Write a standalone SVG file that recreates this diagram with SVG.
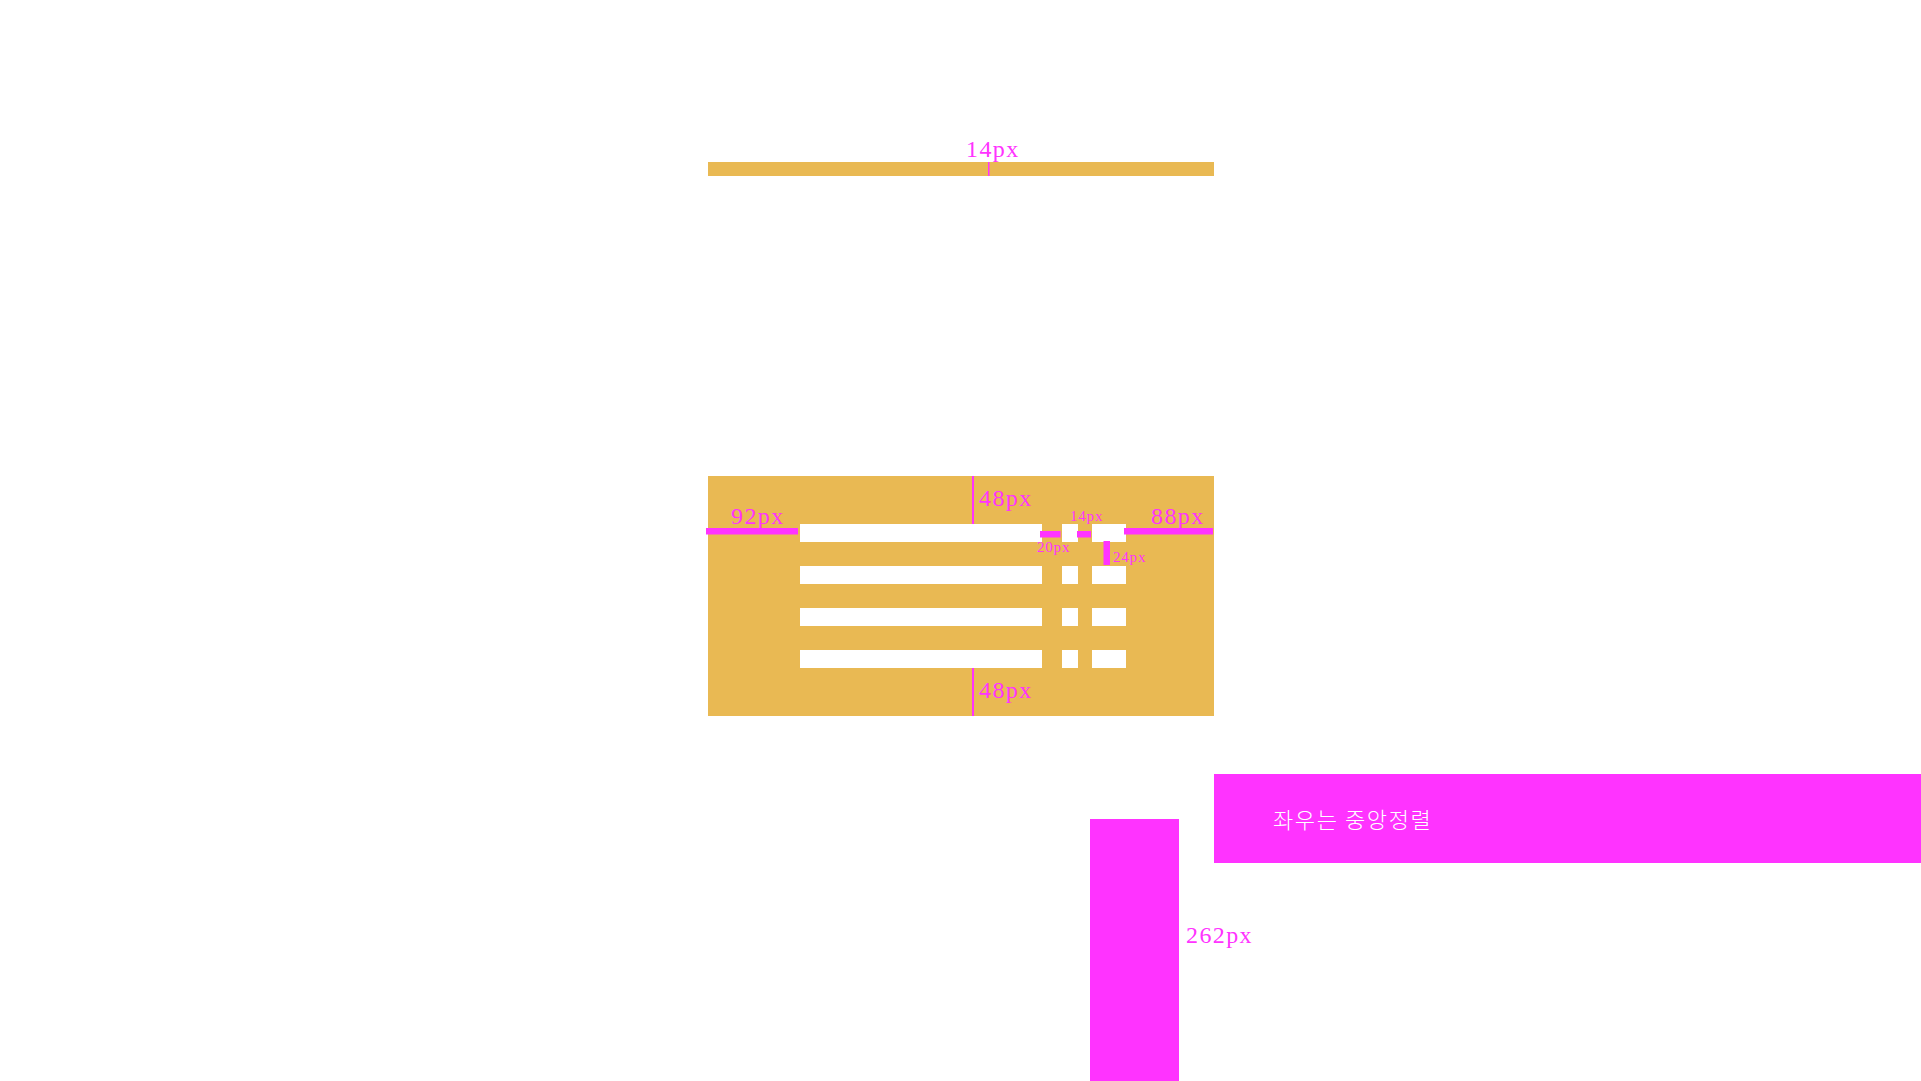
<svg xmlns="http://www.w3.org/2000/svg" width="1921" height="1081" viewBox="0 0 1921 1081">
<style>
.gold{fill:#E9B953}
.cell{fill:#FFFFFF}
.pink{fill:#FF33FF}
.lbl{font-family:"Liberation Serif",serif;fill:#FF33FF;font-size:24px;letter-spacing:1.4px}
.sm{font-family:"Liberation Serif",serif;fill:#FF33FF;font-size:15px;letter-spacing:0.8px}
.kr{font-family:"Noto Sans CJK KR",sans-serif;fill:#FFFFFF;font-size:22px;font-weight:300;letter-spacing:1.6px}
</style>
<rect width="1921" height="1081" fill="#FFFFFF"/>
<g id="top-bar">
<rect class="gold" x="708" y="162" width="506" height="14"/>
<rect class="pink" x="988" y="162" width="1.5" height="14"/>
<text class="lbl" x="966" y="157">14px</text>
</g>
<g id="main-box">
<rect class="gold" x="708" y="476" width="506" height="240"/>
<g id="rows">
<rect class="cell" x="800" y="524" width="242" height="18"/>
<rect class="cell" x="1062" y="524" width="16" height="18"/>
<rect class="cell" x="1092" y="524" width="34" height="18"/>
<rect class="cell" x="800" y="566" width="242" height="18"/>
<rect class="cell" x="1062" y="566" width="16" height="18"/>
<rect class="cell" x="1092" y="566" width="34" height="18"/>
<rect class="cell" x="800" y="608" width="242" height="18"/>
<rect class="cell" x="1062" y="608" width="16" height="18"/>
<rect class="cell" x="1092" y="608" width="34" height="18"/>
<rect class="cell" x="800" y="650" width="242" height="18"/>
<rect class="cell" x="1062" y="650" width="16" height="18"/>
<rect class="cell" x="1092" y="650" width="34" height="18"/>
</g>
<g id="measures">
<rect class="pink" x="972" y="476" width="2" height="48"/>
<text class="lbl" x="979" y="506">48px</text>
<rect class="pink" x="972" y="668" width="2" height="48"/>
<text class="lbl" x="979" y="698">48px</text>
<rect class="pink" x="706" y="528" width="92" height="6.5"/>
<text class="lbl" x="731" y="524">92px</text>
<rect class="pink" x="1124" y="528" width="89" height="6.5"/>
<text class="lbl" x="1151" y="524">88px</text>
<rect class="pink" x="1040" y="531" width="20.5" height="6.5"/>
<text class="sm" x="1037" y="552">20px</text>
<rect class="pink" x="1077" y="531" width="14" height="6.5"/>
<text class="sm" x="1070" y="521">14px</text>
<rect class="pink" x="1103.5" y="541" width="6.5" height="24"/>
<text class="sm" x="1113" y="562">24px</text>
</g>
</g>
<g id="center-box">
<rect class="pink" x="1214" y="774" width="707" height="89"/>
<text class="kr" x="1273" y="828">좌우는 중앙정렬</text>
</g>
<g id="tall-box">
<rect class="pink" x="1090" y="819" width="89" height="262"/>
<text class="lbl" x="1186" y="943">262px</text>
</g>
</svg>
